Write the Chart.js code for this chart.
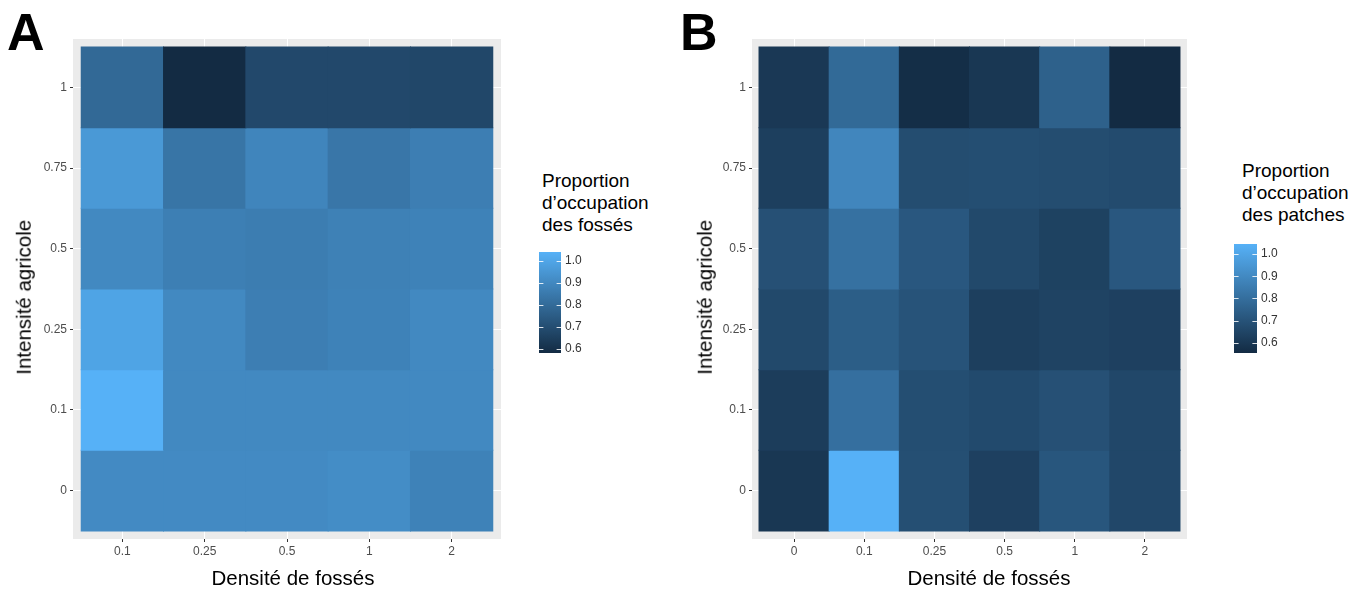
<!DOCTYPE html>
<html>
<head>
<meta charset="utf-8">
<script src="https://cdn.jsdelivr.net/npm/chart.js@4.4.1/dist/chart.umd.min.js"></script>
<style>
body { margin:0; background:#fff; width:1366px; height:589px; overflow:hidden; position:relative; font-family:"Liberation Sans", Arial, sans-serif; color:#000; }
canvas, .txt { position:absolute; }
.letter { font-weight:bold; font-size:52px; line-height:1; }
.xtitle { font-size:20.5px; line-height:1; width:300px; text-align:center; white-space:nowrap; }
.ytitle { font-size:20.5px; line-height:1; width:300px; text-align:center; white-space:nowrap; transform:rotate(-90deg); }
.legtitle { font-size:19px; line-height:22px; white-space:nowrap; }
</style>
</head>
<body>
<div class="txt letter" style="left:7px; top:6px;">A</div>
<div class="txt letter" style="left:680px; top:6px;">B</div>

<canvas id="heatA" width="520" height="589" style="left:0; top:0;"></canvas>
<canvas id="heatB" width="527" height="589" style="left:679px; top:0;"></canvas>

<div class="txt ytitle" style="left:-126px; top:287px;">Intensité agricole</div>
<div class="txt ytitle" style="left:555px; top:287px;">Intensité agricole</div>
<div class="txt xtitle" style="left:143px; top:568px;">Densité de fossés</div>
<div class="txt xtitle" style="left:839px; top:568px;">Densité de fossés</div>

<div class="txt legtitle" style="left:542px; top:170px;">Proportion<br>d’occupation<br>des fossés</div>
<div class="txt legtitle" style="left:1242px; top:160px;">Proportion<br>d’occupation<br>des patches</div>

<canvas id="barA" width="60" height="101" style="left:539px; top:252px;"></canvas>
<canvas id="barB" width="61" height="109" style="left:1234px; top:244px;"></canvas>

<script>
// axes
const densityA = ['0.1', '0.25', '0.5', '1', '2'];
const densityB = ['0', '0.1', '0.25', '0.5', '1', '2'];
const intensity = ['0', '0.1', '0.25', '0.5', '0.75', '1'];

// rows go from intensity 0 (bottom) up to 1 (top)
const occupationFosses = [
    [0.908, 0.908, 0.908, 0.917, 0.880],
    [1.041, 0.903, 0.903, 0.903, 0.903],
    [0.995, 0.903, 0.867, 0.880, 0.903],
    [0.903, 0.871, 0.862, 0.876, 0.880],
    [0.958, 0.834, 0.890, 0.839, 0.867],
    [0.793, 0.582, 0.683, 0.683, 0.678]
];
const occupationPatches = [
    [0.599, 1.045, 0.687, 0.633, 0.712, 0.658],
    [0.619, 0.805, 0.682, 0.668, 0.692, 0.658],
    [0.663, 0.741, 0.702, 0.629, 0.643, 0.633],
    [0.692, 0.810, 0.717, 0.663, 0.638, 0.717],
    [0.629, 0.888, 0.678, 0.682, 0.678, 0.673],
    [0.604, 0.785, 0.565, 0.599, 0.751, 0.555]
];
const legendTicks = [0.6, 0.7, 0.8, 0.9, 1.0];

const low = [19, 43, 67];
const high = [86, 177, 247];

function fill(v, lo, hi){
    let t = (v - lo) / (hi - lo);
    let c = low.map((l, i) => Math.round(l + (high[i] - l) * t));
    return `rgb(${c[0]}, ${c[1]}, ${c[2]})`
}

const panelBg = {
    id: 'panelBg',
    beforeDraw(chart) {
        const {ctx, chartArea} = chart;
        ctx.save();
        ctx.fillStyle = '#EBEBEB';
        ctx.fillRect(chartArea.left, chartArea.top, chartArea.right - chartArea.left, chartArea.bottom - chartArea.top);
        ctx.restore();
    }
};

function heatmap(id, cols, values){
    let all = values.flat();
    let lo = Math.min(...all);
    let hi = Math.max(...all);

    const cells = [];
    const colours = [];
    values.forEach((row, r) => row.forEach((v, c) => {
        cells.push({x: c, y: [r - 0.5, r + 0.5]});
        colours.push(fill(v, lo, hi));
    }));

    const tickFont = {family: '"Liberation Sans", Arial, sans-serif', size: 12};
    const grid = {color: '#FFFFFF', lineWidth: 1, offset: false, drawTicks: true, tickLength: 3, tickWidth: 1, tickColor: '#333333'};

    new Chart(document.getElementById(id), {
        type: 'bar',
        data: {
            datasets: [{
                data: cells,
                backgroundColor: colours,
                borderWidth: 0,
                inflateAmount: 0.5,
                barPercentage: 1,
                categoryPercentage: 1
            }]
        },
        options: {
            responsive: false,
            animation: false,
            devicePixelRatio: 1,
            layout: {padding: {top: 39, right: 19, left: 0, bottom: 0}},
            plugins: {legend: {display: false}, tooltip: {enabled: false}},
            scales: {
                x: {
                    type: 'linear',
                    min: -0.6,
                    max: cols.length - 0.4,
                    bounds: 'data',
                    offset: false,
                    afterBuildTicks: s => { s.ticks = cols.map((_, i) => ({value: i})); },
                    afterFit: s => { s.height = 50; s.paddingLeft = 0; s.paddingRight = 0; },
                    grid: grid,
                    border: {display: false},
                    ticks: {padding: 2, color: '#4D4D4D', font: tickFont, maxRotation: 0, autoSkip: false, callback: v => cols[v]}
                },
                y: {
                    type: 'linear',
                    min: -0.6,
                    max: intensity.length - 0.4,
                    bounds: 'data',
                    afterBuildTicks: s => { s.ticks = intensity.map((_, i) => ({value: i})); },
                    afterFit: s => { s.width = 73; s.paddingTop = 0; s.paddingBottom = 0; },
                    grid: grid,
                    border: {display: false},
                    ticks: {padding: 3, color: '#4D4D4D', font: tickFont, autoSkip: false, callback: v => intensity[v]}
                }
            }
        },
        plugins: [panelBg]
    });
    return [lo, hi]
}

// little white marks across the colour bar
const barTicks = {
    id: 'barTicks',
    afterDatasetsDraw(chart) {
        const {ctx, chartArea, scales} = chart;
        let w = chartArea.right - chartArea.left;
        ctx.save();
        ctx.strokeStyle = 'rgba(255,255,255,0.85)';
        ctx.lineWidth = 1;
        legendTicks.forEach(v => {
            let y = Math.round(scales.y.getPixelForValue(v)) + 0.5;
            ctx.beginPath();
            ctx.moveTo(chartArea.left, y);
            ctx.lineTo(chartArea.left + w / 5, y);
            ctx.moveTo(chartArea.right - w / 5, y);
            ctx.lineTo(chartArea.right, y);
            ctx.stroke();
        });
        ctx.restore();
    }
};

function colourbar(id, lo, hi){
    new Chart(document.getElementById(id), {
        type: 'bar',
        data: {
            labels: [''],
            datasets: [{
                data: [[lo, hi]],
                backgroundColor: (c) => {
                    const area = c.chart.chartArea;
                    if (!area) return fill(lo, lo, hi);
                    const g = c.chart.ctx.createLinearGradient(0, area.bottom, 0, area.top);
                    g.addColorStop(0, fill(lo, lo, hi));
                    g.addColorStop(1, fill(hi, lo, hi));
                    return g;
                },
                borderWidth: 0,
                barPercentage: 1,
                categoryPercentage: 1
            }]
        },
        options: {
            responsive: false,
            animation: false,
            devicePixelRatio: 1,
            layout: {padding: 0},
            plugins: {legend: {display: false}, tooltip: {enabled: false}},
            scales: {
                x: {display: false},
                y: {
                    position: 'right',
                    min: lo,
                    max: hi,
                    bounds: 'data',
                    afterBuildTicks: s => { s.ticks = legendTicks.map(v => ({value: v})); },
                    afterFit: s => { s.width = 38; s.paddingTop = 0; s.paddingBottom = 0; },
                    grid: {display: false, drawTicks: false},
                    border: {display: false},
                    ticks: {padding: 4, color: '#333333', font: {family: '"Liberation Sans", Arial, sans-serif', size: 12}, callback: v => v.toFixed(1)}
                }
            }
        },
        plugins: [barTicks]
    });
}

let limA = heatmap('heatA', densityA, occupationFosses);
let limB = heatmap('heatB', densityB, occupationPatches);
colourbar('barA', limA[0], limA[1]);
colourbar('barB', limB[0], limB[1]);
</script>
</body>
</html>
